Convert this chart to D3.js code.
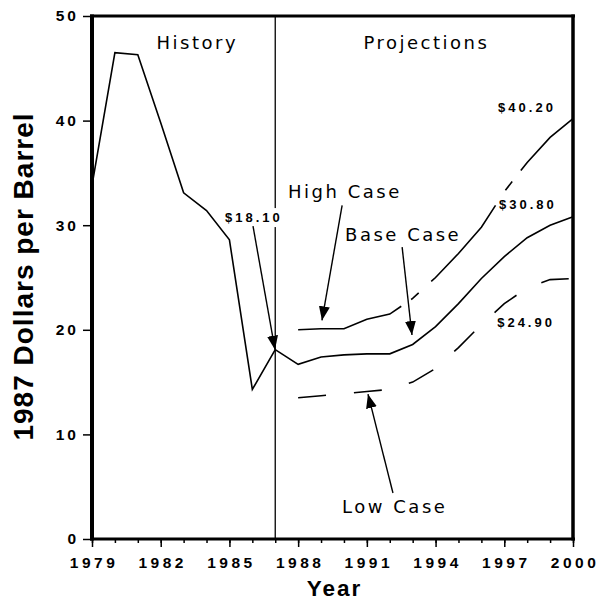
<!DOCTYPE html>
<html>
<head>
<meta charset="utf-8">
<script src="https://cdn.jsdelivr.net/npm/d3@7"></script>
<style>
  body { margin: 0; background: #fff; }
  text { fill: #000; }
</style>
</head>
<body>
<div class="chart"></div>
<script>
// history, 1979-1987
var histYears = [1979, 1980, 1981, 1982, 1983, 1984, 1985, 1986, 1987];
var histPrice = [33.8, 46.5, 46.3, 39.8, 33.1, 31.4, 28.6, 14.3, 18.1];

// projections, 1988-2000
var projYears = [1988, 1989, 1990, 1991, 1992, 1993, 1994, 1995, 1996, 1997, 1998, 1999, 2000];
var highCase = [20.0, 20.1, 20.1, 21.0, 21.5, 23.0, 25.0, 27.3, 29.8, 33.2, 36.0, 38.4, 40.2];
var baseCase = [16.7, 17.4, 17.6, 17.7, 17.7, 18.6, 20.3, 22.5, 24.9, 27.0, 28.8, 30.0, 30.8];
var lowCase  = [13.5, 13.7, 13.9, 14.1, 14.3, 15.0, 16.3, 18.3, 20.5, 22.5, 24.0, 24.8, 24.9];

var xTicks = [1979, 1982, 1985, 1988, 1991, 1994, 1997, 2000];
var yTicks = [0, 10, 20, 30, 40, 50];

// text notes and arrows, in data units
var notes = [
  { text: "History",     x: 1983.6, y: 46.85, anchor: "middle", size: 18, weight: "normal" },
  { text: "Projections", x: 1993.6, y: 46.85, anchor: "middle", size: 18, weight: "normal" },
  { text: "$40.20",      x: 1996.73, y: 40.8, anchor: "start", size: 13, weight: "bold" },
  { text: "$30.80",      x: 1996.77, y: 31.55, anchor: "start", size: 13, weight: "bold" },
  { text: "$24.90",      x: 1996.69, y: 20.3, anchor: "start", size: 13, weight: "bold" },
  { text: "High Case",   x: 1987.56, y: 32.6, anchor: "start", size: 18, weight: "normal" },
  { text: "Base Case",   x: 1990.05, y: 28.5, anchor: "start", size: 18, weight: "normal" },
  { text: "Low Case",    x: 1989.92, y: 2.5,  anchor: "start", size: 18, weight: "normal" }
];
var priceNote = { text: "$18.10", x: 1984.81, y: 30.3 };
var arrows = [
  { x1: 1986.03, y1: 29.9, x2: 1986.99, y2: 18.1 },
  { x1: 1989.92, y1: 31.9, x2: 1989.04, y2: 20.9 },
  { x1: 1992.54, y1: 27.9, x2: 1992.97, y2: 19.5 },
  { x1: 1992.14, y1: 4.4,  x2: 1991.05, y2: 13.85 }
];

var margin = { top: 16, right: 29, bottom: 62, left: 92 };
var width = 602 - margin.left - margin.right;
var height = 601 - margin.top - margin.bottom;

var svg = d3.select(".chart")
  .append("svg")
    .attr("width", 602)
    .attr("height", 601)
  .append("g")
    .attr("transform", "translate(" + margin.left + "," + margin.top + ")");

var x = d3.scaleLinear().domain([1979, 2000]).range([0, width]);
var y = d3.scaleLinear().domain([0, 50]).range([height, 0]);

svg.append("defs").append("marker")
    .attr("id", "head")
    .attr("markerUnits", "userSpaceOnUse")
    .attr("viewBox", "0 -6 14 12")
    .attr("refX", 14)
    .attr("refY", 0)
    .attr("markerWidth", 14)
    .attr("markerHeight", 12)
    .attr("orient", "auto")
  .append("path")
    .attr("d", "M0,-5.5L14,0L0,5.5Z")
    .style("fill", "#000");

// minor year ticks
svg.append("g")
    .attr("transform", "translate(0," + height + ")")
    .call(d3.axisBottom(x).tickValues(d3.range(1979, 2001)).tickSize(4).tickFormat(""))
    .call(g => g.select(".domain").remove())
    .call(g => g.selectAll("line").style("stroke-width", 1.5));

var xAxis = svg.append("g")
    .attr("transform", "translate(0," + height + ")")
    .call(d3.axisBottom(x).tickValues(xTicks).tickSize(8).tickPadding(8).tickFormat(d3.format("d")));
xAxis.select(".domain").remove();
xAxis.selectAll("line").style("stroke-width", 1.5);
xAxis.selectAll("text")
    .style("font-family", "'Liberation Sans', Arial, sans-serif")
    .style("font-weight", "bold")
    .style("font-size", "15.5px")
    .style("letter-spacing", "3.5px")
    .attr("dx", "1.5px")
    .attr("dy", "0.87em");

var yAxis = svg.append("g")
    .call(d3.axisLeft(y).tickValues(yTicks).tickSize(9).tickPadding(4));
yAxis.select(".domain").remove();
yAxis.selectAll("line").style("stroke-width", 1.5);
yAxis.selectAll("text")
    .style("font-family", "'Liberation Sans', Arial, sans-serif")
    .style("font-weight", "bold")
    .style("font-size", "15.5px")
    .style("letter-spacing", "3px");

// frame
svg.append("line").attr("x1", 0).attr("x2", 0).attr("y1", -1.5).attr("y2", height + 1.5)
  .style("stroke", "#000").style("stroke-width", 4);
svg.append("line").attr("x1", -2).attr("x2", width + 2).attr("y1", height).attr("y2", height)
  .style("stroke", "#000").style("stroke-width", 3);
svg.append("line").attr("x1", -2).attr("x2", width + 2).attr("y1", 0).attr("y2", 0)
  .style("stroke", "#000").style("stroke-width", 3);
svg.append("line").attr("x1", width).attr("x2", width).attr("y1", -1.5).attr("y2", height + 1.5)
  .style("stroke", "#000").style("stroke-width", 3.5);

// divider between history and projections
svg.append("line")
    .attr("x1", x(1987)).attr("x2", x(1987))
    .attr("y1", y(50)).attr("y2", y(0))
    .style("stroke", "#000").style("stroke-width", 1.3);

var line = d3.line().x(d => x(d[0])).y(d => y(d[1]));

var histPts = histYears.map((yr, i) => [yr, histPrice[i]]);
var basePts = [[1987, 18.1]].concat(projYears.map((yr, i) => [yr, baseCase[i]]));
var highPts = projYears.map((yr, i) => [yr, highCase[i]]);
var lowPts = projYears.map((yr, i) => [yr, lowCase[i]]);

svg.append("path").attr("d", line(histPts))
  .style("fill", "none").style("stroke", "#000").style("stroke-width", 1.6);
svg.append("path").attr("d", line(basePts))
  .style("fill", "none").style("stroke", "#000").style("stroke-width", 1.6);
svg.append("path").attr("d", line(highPts))
  .style("fill", "none").style("stroke", "#000").style("stroke-width", 1.6)
  .style("stroke-dasharray", "108,12,10,17,100,18,11,14,400");
svg.append("path").attr("d", line(lowPts))
  .style("fill", "none").style("stroke", "#000").style("stroke-width", 1.6)
  .style("stroke-dasharray", "28,28");

// $18.10 label sits on a white patch over the divider
var pn = svg.append("g");
var pnText = pn.append("text")
    .attr("x", x(priceNote.x))
    .attr("y", y(priceNote.y))
    .style("font-family", "'Liberation Sans', Arial, sans-serif")
    .style("font-weight", "bold")
    .style("font-size", "13px")
    .style("letter-spacing", "3px")
    .text(priceNote.text);
var bb = pnText.node().getBBox();
pn.insert("rect", "text")
    .attr("x", bb.x - 1).attr("y", bb.y - 2)
    .attr("width", bb.width + 4).attr("height", bb.height + 4)
    .style("fill", "#fff");

svg.selectAll(".note")
  .data(notes)
  .enter()
  .append("text")
    .attr("class", "note")
    .attr("x", d => x(d.x))
    .attr("y", d => y(d.y))
    .attr("text-anchor", d => d.anchor)
    .style("font-family", d => d.weight == "bold" ? "'Liberation Sans', Arial, sans-serif" : "'DejaVu Sans', sans-serif")
    .style("font-weight", d => d.weight)
    .style("font-size", d => d.size + "px")
    .style("letter-spacing", d => d.weight == "bold" ? "3px" : "2.5px")
    .text(d => d.text);

svg.selectAll(".arrow")
  .data(arrows)
  .enter()
  .append("line")
    .attr("class", "arrow")
    .attr("x1", d => x(d.x1)).attr("y1", d => y(d.y1))
    .attr("x2", d => x(d.x2)).attr("y2", d => y(d.y2))
    .style("stroke", "#000").style("stroke-width", 1.4)
    .attr("marker-end", "url(#head)");

// axis titles
svg.append("text")
    .attr("x", width / 2 + 2)
    .attr("y", height + 57)
    .attr("text-anchor", "middle")
    .style("font-family", "'Liberation Sans', Arial, sans-serif")
    .style("font-weight", "bold")
    .style("font-size", "22.5px")
    .style("letter-spacing", "2px")
    .text("Year");

svg.append("text")
    .attr("transform", "translate(" + (-59) + "," + (height / 2 - 1) + ") rotate(-90)")
    .attr("text-anchor", "middle")
    .style("font-family", "'Liberation Sans', Arial, sans-serif")
    .style("font-weight", "bold")
    .style("font-size", "28px")
    .style("letter-spacing", "1px")
    .text("1987 Dollars per Barrel");
</script>
</body>
</html>
